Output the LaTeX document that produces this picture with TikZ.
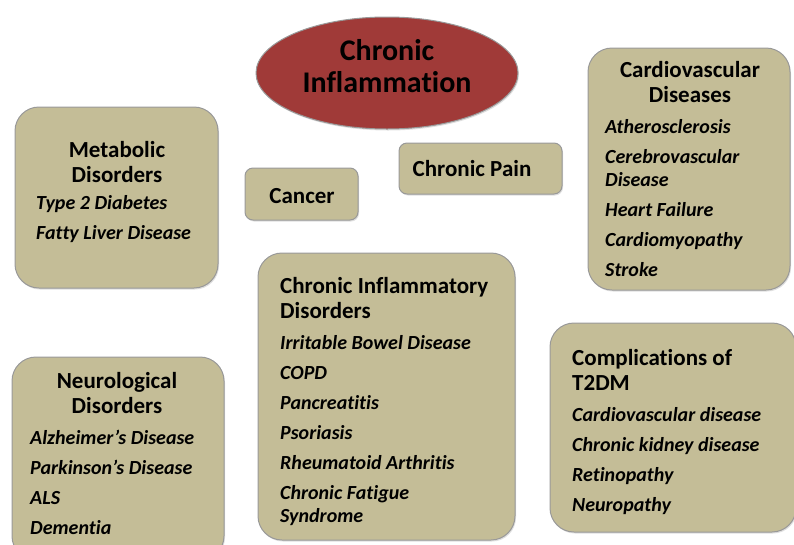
\documentclass[tikz,border=0pt]{standalone}
\usepackage{fontspec}
\setmainfont{Carlito}[Ligatures=NoCommon]
\usepackage{xcolor}
\usepackage{tikz}
\usetikzlibrary{shapes.geometric, shadows, positioning}

\definecolor{tanbox}{HTML}{C4BD97}
\definecolor{redoval}{HTML}{A03A38}

\begin{document}
\begin{tikzpicture}[x=1pt, y=-1pt,
    grpbox/.style={rectangle, draw=black!40, line width=1pt, fill=tanbox, rounded corners=24pt, inner sep=0pt,
        drop shadow={shadow xshift=1pt, shadow yshift=-1.5pt, opacity=0.25}},
    smallbox/.style={grpbox, rounded corners=8pt},
    hdr/.style={inner sep=0pt, font=\fontsize{23}{25}\selectfont\bfseries},
    itm/.style={inner sep=0pt, align=left, anchor=north west, font=\fontsize{20}{23}\selectfont\bfseries\itshape}]
    \clip (0,0) rectangle (794,544);
    \useasboundingbox (0,0) rectangle (794,544);
    % Centre: the oval
    \node[ellipse, draw=black!40, line width=1pt, fill=redoval, minimum width=262pt, minimum height=112pt,
        drop shadow={shadow xshift=1pt, shadow yshift=-1.5pt, opacity=0.25}] (chi) at (387,73) {};
    \node[hdr, font=\fontsize{30}{32}\selectfont\bfseries, align=center] (chit) at (387,66) {Chronic\\Inflammation};
    % Row 1: small boxes
    \node[smallbox, minimum width=113pt, minimum height=52pt] (cancer) at (301.5,194) {};
    \node[hdr] (cancert) at (302,196) {Cancer};
    \node[smallbox, minimum width=163pt, minimum height=51pt] (pain) at (480.5,168.5) {};
    \node[hdr] (paint) at (472,169) {Chronic Pain};
    % Metabolic
    \node[grpbox, minimum width=203pt, minimum height=181pt] (metab) at (116.5,197.5) {};
    \node[hdr, align=center, anchor=north] (metabt) at (117,141) {Metabolic\\Disorders};
    \node[itm] (metabl) at (36,195) {Type 2 Diabetes\\[7pt]Fatty Liver Disease};
    % Cardiovascular
    \node[grpbox, minimum width=202pt, minimum height=242pt] (cardio) at (689,169) {};
    \node[hdr, align=center, anchor=north] (cardiot) at (690,61) {Cardiovascular\\Diseases};
    \node[itm] (cardiol) at (605,119) {Atherosclerosis\\[7pt]Cerebrovascular\\Disease\\[7pt]Heart Failure\\[7pt]Cardiomyopathy\\[7pt]Stroke};
    % Neurological
    \node[grpbox, minimum width=212pt, minimum height=203pt] (neuro) at (118,458.5) {};
    \node[hdr, align=center, anchor=north] (neurot) at (117,372) {Neurological\\Disorders};
    \node[itm] (neurol) at (30,430) {Alzheimer’s Disease\\[7pt]Parkinson’s Disease\\[7pt]ALS\\[7pt]Dementia};
    % Chronic inflammatory disorders
    \node[grpbox, minimum width=257pt, minimum height=287pt] (cid) at (386.5,396.5) {};
    \node[hdr, align=left, anchor=north west] (cidt) at (280,277) {Chronic Inflammatory\\Disorders};
    \node[itm] (cidl) at (280,335) {Irritable Bowel Disease\\[7pt]COPD\\[7pt]Pancreatitis\\[7pt]Psoriasis\\[7pt]Rheumatoid Arthritis\\[7pt]Chronic Fatigue\\Syndrome};
    % Complications
    \node[grpbox, minimum width=246pt, minimum height=209pt] (compl) at (673,427.5) {};
    \node[hdr, align=left, anchor=north west] (complt) at (572,349) {Complications of\\T2DM};
    \node[itm] (compll) at (572,407) {Cardiovascular disease\\[7pt]Chronic kidney disease\\[7pt]Retinopathy\\[7pt]Neuropathy};
\end{tikzpicture}
\end{document}
